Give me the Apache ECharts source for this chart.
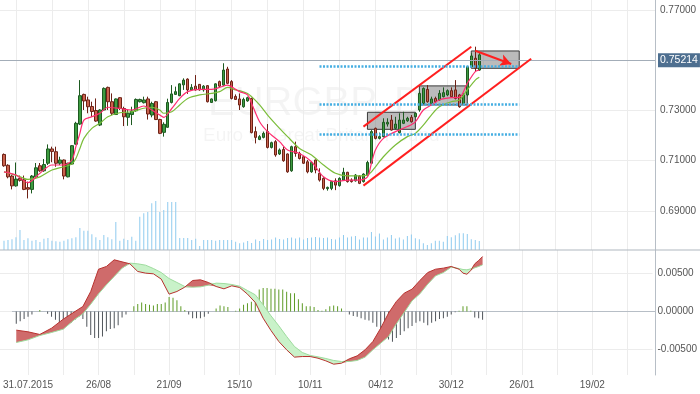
<!DOCTYPE html>
<html><head><meta charset="utf-8">
<script src="https://cdn.jsdelivr.net/npm/echarts@6/dist/echarts.min.js"></script>
<style>html,body{margin:0;padding:0;background:#fff}#c{width:700px;height:394px}</style>
</head><body><div id="c"></div>
<script>
// ---- trading-day categories (weekdays, 1 Jan 2016 closed) ----
const firstDay = '2015-07-27';
const closedDays = ['2016-01-01'];
const categoryCount = 165;
const tickDates  = ['2015-07-31','2015-08-26','2015-09-21','2015-10-15','2015-11-10','2015-12-04','2015-12-30','2016-01-26','2016-02-19'];
const tickLabels = ['31.07.2015','26/08','21/09','15/10','10/11','04/12','30/12','26/01','19/02'];
const categories = [];
(function(){
  let d = new Date(firstDay + 'T00:00:00Z');
  while (categories.length < categoryCount) {
    const wd = d.getUTCDay(), iso = d.toISOString().slice(0,10);
    if (wd !== 0 && wd !== 6 && closedDays.indexOf(iso) < 0) categories.push(iso);
    d = new Date(d.getTime() + 86400000);
  }
})();
const firstCandleIdx = 1;

// ---- EURGBP daily candles [open, close, low, high] ----
const candles = [
[.7125,.7080,.7076,.7129],[.7082,.7036,.7030,.7086],[.7039,.7000,.6986,.7043],[.7000,.7027,.6997,.7093],[.7030,.7022,.7017,.7041],
[.7024,.6986,.6983,.7041],[.6993,.6987,.6950,.7017],[.6986,.7039,.6970,.7043],[.7036,.7072,.7034,.7091],[.7080,.7060,.7056,.7091],
[.7060,.7085,.7056,.7107],[.7090,.7147,.7083,.7165],[.7147,.7137,.7094,.7156],[.7136,.7090,.7076,.7156],[.7090,.7103,.7083,.7116],
[.7103,.7039,.7026,.7105],[.7036,.7090,.7034,.7092],[.7087,.7160,.7084,.7162],[.7166,.7249,.7164,.7255],[.7246,.7359,.7242,.7421],
[.7364,.7338,.7302,.7367],[.7342,.7315,.7289,.7355],[.7316,.7296,.7275,.7335],[.7300,.7258,.7255,.7348],[.7242,.7302,.7238,.7305],
[.7302,.7388,.7299,.7392],[.7392,.7335,.7302,.7395],[.7335,.7289,.7282,.7368],[.7284,.7346,.7282,.7348],[.7351,.7308,.7302,.7353],
[.7308,.7275,.7238,.7315],[.7273,.7289,.7239,.7302],[.7284,.7298,.7242,.7315],[.7299,.7344,.7295,.7348],[.7335,.7344,.7332,.7347],
[.7331,.7342,.7328,.7355],[.7346,.7286,.7264,.7355],[.7282,.7328,.7273,.7335],[.7335,.7264,.7262,.7338],[.7264,.7209,.7206,.7267],
[.7213,.7245,.7196,.7253],[.7233,.7332,.7232,.7347],[.7332,.7366,.7328,.7401],[.7364,.7375,.7362,.7395],[.7359,.7406,.7357,.7408],
[.7402,.7421,.7382,.7428],[.7425,.7382,.7366,.7428],[.7382,.7392,.7379,.7405],[.7397,.7382,.7379,.7441],[.7404,.7382,.7379,.7405],
[.7382,.7397,.7375,.7401],[.7399,.7335,.7332,.7401],[.7332,.7346,.7330,.7348],[.7339,.7406,.7336,.7408],[.7415,.7397,.7392,.7419],
[.7401,.7461,.7397,.7488],[.7465,.7408,.7405,.7474],[.7415,.7348,.7344,.7421],[.7356,.7344,.7342,.7364],[.7346,.7322,.7302,.7368],
[.7315,.7344,.7311,.7351],[.7338,.7351,.7335,.7355],[.7348,.7212,.7209,.7351],[.7216,.7193,.7169,.7236],[.7185,.7196,.7182,.7202],
[.7193,.7209,.7189,.7216],[.7216,.7153,.7149,.7246],[.7153,.7172,.7149,.7176],[.7176,.7123,.7116,.7182],[.7127,.7143,.7123,.7149],
[.7145,.7100,.7096,.7156],[.7127,.7056,.7052,.7129],[.7060,.7156,.7056,.7160],[.7156,.7129,.7116,.7176],[.7129,.7109,.7105,.7136],
[.7116,.7090,.7087,.7119],[.7096,.7056,.7050,.7103],[.7056,.7093,.7052,.7096],[.7103,.7063,.7050,.7105],[.7050,.7023,.7017,.7070],
[.7030,.6990,.6983,.7034],[.6989,.6994,.6981,.6997],[.6990,.7017,.6983,.7019],[.7020,.7003,.6983,.7030],[.7001,.7030,.6997,.7034],
[.7023,.7054,.7020,.7072],[.7054,.7017,.7013,.7056],[.7023,.7017,.7013,.7030],[.7020,.7043,.7017,.7047],[.7039,.7010,.7007,.7043],
[.7017,.7047,.7013,.7050],[.7043,.7093,.7039,.7100],[.7090,.7216,.7087,.7222],[.7229,.7189,.7185,.7232],[.7189,.7196,.7185,.7212],
[.7196,.7253,.7193,.7269],[.7246,.7253,.7236,.7269],[.7262,.7222,.7220,.7282],[.7229,.7246,.7225,.7275],[.7212,.7262,.7209,.7289],
[.7249,.7262,.7246,.7295],[.7259,.7269,.7255,.7275],[.7273,.7255,.7252,.7282],[.7275,.7289,.7273,.7291],[.7302,.7368,.7295,.7375],
[.7328,.7388,.7326,.7392],[.7384,.7335,.7331,.7401],[.7328,.7346,.7326,.7355],[.7348,.7335,.7331,.7355],[.7342,.7368,.7339,.7381],
[.7355,.7371,.7352,.7392],[.7362,.7379,.7357,.7384],[.7379,.7355,.7352,.7392],[.7382,.7348,.7344,.7421],[.7362,.7315,.7311,.7366],
[.7328,.7362,.7326,.7368],[.7362,.7474,.7357,.7477],[.7474,.7517,.7472,.7528],[.7508,.7468,.7455,.7554],[.7461,.75214,.7458,.7528]
];
const lastPrice = 0.75214;

// ---- moving averages, read at sampled candles (candle number, value) ----
const maIdx  = [1,4,7,10,13,16,18,19,20,21,23,25,27,30,33,36,38,40,41,43,45,47,50,53,55,57,59,60,62,63,65,67,70,72,75,78,81,84,87,90,92,93,94,96,99,102,104,106,108,110,113,115,117,119,120];
const maFast = [.7056,.7043,.7013,.7050,.7083,.7083,.7103,.7156,.7209,.7262,.7275,.7289,.7313,.7308,.7302,.7318,.7302,.7282,.7273,.7308,.7348,.7375,.7384,.7384,.7392,.7401,.7384,.7375,.7362,.7328,.7255,.7216,.7176,.7143,.7129,.7096,.7036,.7017,.7023,.7023,.7036,.7090,.7143,.7189,.7216,.7236,.7255,.7302,.7322,.7342,.7351,.7352,.7408,.7455,.7461];
const maSlow = [.7056,.7043,.7026,.7036,.7063,.7076,.7087,.7109,.7149,.7189,.7229,.7249,.7275,.7291,.7295,.7309,.7313,.7302,.7289,.7295,.7322,.7348,.7362,.7368,.7375,.7392,.7382,.7379,.7368,.7355,.7322,.7282,.7229,.7196,.7149,.7123,.7083,.7050,.7040,.7040,.7043,.7056,.7076,.7116,.7163,.7196,.7209,.7242,.7282,.7315,.7335,.7342,.7382,.7421,.7432];

// ---- volume per candle ----
const volume = [9300,10000,10700,12700,20000,10000,11700,9300,10000,8000,11300,12000,9300,8700,8300,9300,10700,11700,12700,22000,
19300,19300,15700,12700,10000,15000,12700,10700,28000,9300,11300,10000,13300,9300,33300,36700,38000,46700,49000,38000,
40000,48000,48000,48000,12000,12000,12000,10000,11300,4000,10000,10000,10000,9300,10000,10000,10000,10000,8300,6700,
7500,9000,7000,10500,9000,11000,10000,10500,12500,11000,10500,12000,12500,11500,12500,10500,12000,12500,13000,12500,
12000,12500,11000,10500,12500,15000,12500,13500,14000,10500,12500,12500,18000,13500,16500,10500,12500,15000,11500,12500,
10500,14000,15500,11700,10700,6700,5000,6700,9300,9300,8300,14000,12700,14700,16700,16700,16000,10700,10000,9000];

// ---- MACD panel ----
const histogram = [-0.0016,-0.0013,-0.0010,-0.0007,-0.0004,0.0000,0.0002,0.0000,-0.0003,-0.0007,
-0.0011,-0.0018,-0.0018,-0.0018,-0.0015,-0.0011,-0.0007,-0.0010,-0.0020,-0.0031,
-0.0035,-0.0035,-0.0033,-0.0026,-0.0023,-0.0022,-0.0018,-0.0008,-0.0004,0.0000,
0.0007,0.0010,0.0012,0.0010,0.0009,0.0008,0.0010,0.0010,0.0012,0.0019,
0.0018,0.0015,0.0007,0.0002,-0.0004,-0.0009,-0.0009,-0.0009,-0.0007,-0.0003,
0.0000,0.0004,0.0008,0.0007,0.0006,0.0000,0.0001,0.0004,0.0009,0.0011,
0.0013,0.0015,0.0029,0.0031,0.0031,0.0030,0.0030,0.0029,0.0029,0.0026,
0.0024,0.0024,0.0016,0.0011,0.0007,0.0007,0.0006,0.0002,0.0001,0.0003,
0.0007,0.0008,0.0007,0.0004,0.0000,-0.0004,-0.0006,-0.0007,-0.0009,-0.0011,
-0.0012,-0.0015,-0.0020,-0.0031,-0.0037,-0.0037,-0.0040,-0.0035,-0.0031,-0.0026,
-0.0022,-0.0019,-0.0015,-0.0013,-0.0015,-0.0018,-0.0015,-0.0013,-0.0010,-0.0009,
-0.0007,-0.0004,-0.0001,0.0001,0.0007,0.0007,0.0001,-0.0008,-0.0009,-0.0011];
const macdIdx = [1,4,7,10,13,16,18,20,22,24,26,28,30,32,34,36,38,40,42,44,46,48,50,52,54,56,58,60,62,64,66,68,70,72,74,76,78,80,82,84,86,88,90,92,94,96,98,100,102,104,106,108,110,112,114,115,116,117,118,119,120];
const macdLine = [-0.00246,-0.00268,-0.00303,-0.00220,-0.00101,0.00000,0.00066,0.00264,0.00558,0.00594,0.00682,0.00655,0.00629,0.00528,0.00506,0.00497,0.00427,0.00229,0.00264,0.00321,0.00409,0.00418,0.00383,0.00330,0.00299,0.00339,0.00317,0.00229,0.00119,-0.00088,-0.00251,-0.00396,-0.00506,-0.00602,-0.00594,-0.00594,-0.00616,-0.00651,-0.00695,-0.00682,-0.00624,-0.00585,-0.00506,-0.00396,-0.00220,-0.00022,0.00132,0.00242,0.00295,0.00409,0.00514,0.00558,0.00572,0.00594,0.00558,0.00506,0.00492,0.00541,0.00629,0.00673,0.00725];
const signalLine = [-0.00409,-0.00374,-0.00317,-0.00277,-0.00233,-0.00101,-0.00031,0.00097,0.00233,0.00352,0.00462,0.00572,0.00638,0.00629,0.00611,0.00567,0.00514,0.00435,0.00383,0.00330,0.00321,0.00325,0.00347,0.00374,0.00369,0.00356,0.00334,0.00277,0.00220,0.00088,-0.00057,-0.00189,-0.00330,-0.00462,-0.00541,-0.00580,-0.00598,-0.00620,-0.00646,-0.00660,-0.00660,-0.00646,-0.00602,-0.00506,-0.00418,-0.00330,-0.00163,-0.00013,0.00141,0.00233,0.00361,0.00470,0.00514,0.00585,0.00567,0.00554,0.00550,0.00563,0.00576,0.00594,0.00616];

// ---- drawn annotations (category index, price) ----
const channelLines = [ [[91,0.7236],[118,0.7554]], [[91,0.7001],[133,0.7506]] ];
const arrowLine = [[119,0.7538],[128,0.7485]];
const levelLines = [0.7477, 0.7323, 0.7204];
const levelFrom = 80, levelTo = 130;
const boxes = [ [[92,0.7293],[104,0.7225]], [[105,0.7398],[117,0.7322]], [[118,0.7537],[130,0.7468]] ];

// ---------------- chart ----------------
const gridLineColor = '#ececec';
const axisColor = '#b7bec6';
const labelFont = { color: '#555', fontSize: 10, fontFamily: 'Liberation Sans, Arial, sans-serif' };
const splitInterval = (i) => i >= 4 && (i - 4) % 9 === 0;

const candleData = candles.map((c, i) => [i + firstCandleIdx, c[0], c[1], c[2], c[3]]);
const pairs = (idx, vals) => idx.map((n, i) => [n - 1 + firstCandleIdx, vals[i]]);
const volData = volume.map((v, i) => [i + firstCandleIdx, v]);
const histData = histogram.map((v, i) => ({ value: [i + firstCandleIdx, v], itemStyle: { color: v >= 0 ? '#5e9b26' : '#50555b' } }));
const baseBand = macdIdx.map((n, i) => [n - 1 + firstCandleIdx, Math.min(macdLine[i], signalLine[i])]);
const redBand = macdIdx.map((n, i) => [n - 1 + firstCandleIdx, Math.max(macdLine[i] - signalLine[i], 0)]);
const greenBand = macdIdx.map((n, i) => [n - 1 + firstCandleIdx, Math.max(signalLine[i] - macdLine[i], 0)]);

const markLines = [
  { yAxis: lastPrice, symbol: 'none', lineStyle: { color: '#a3adb8', width: 1, type: 'solid' },
    label: { show: true, position: 'end', distance: 3, formatter: lastPrice.toFixed(5), color: '#fff',
             backgroundColor: '#4e6f90', padding: [2, 2, 1, 2], lineHeight: 11, fontSize: 10.5, fontFamily: 'Liberation Sans, Arial, sans-serif' } }
];
channelLines.forEach(l => markLines.push([
  { coord: l[0], symbol: 'none', lineStyle: { color: '#ff1f1f', width: 2, type: 'solid' }, label: { show: false } },
  { coord: l[1], symbol: 'none' }]));
markLines.push([
  { coord: arrowLine[0], symbol: 'none', lineStyle: { color: '#ff1f1f', width: 2, type: 'solid' }, label: { show: false } },
  { coord: arrowLine[1], symbol: 'arrow', symbolSize: [9, 11] }]);
levelLines.forEach(p => markLines.push([
  { coord: [levelFrom, p], symbol: 'none', lineStyle: { color: '#45aee2', width: 2.5, type: [2, 1.5] }, label: { show: false } },
  { coord: [levelTo, p], symbol: 'none' }]));

const xBase = { type: 'category', data: categories, boundaryGap: false };
const chart = echarts.init(document.getElementById('c'));
chart.setOption({
  animation: false,
  backgroundColor: '#fff',
  graphic: [
    { type: 'text', left: 208, top: 84, z: 0, silent: true,
      style: { text: 'EURGBP, D', fill: 'rgba(0,0,0,0.045)', font: '40px Liberation Sans, Arial, sans-serif' } },
    { type: 'text', left: 203, top: 126, z: 0, silent: true,
      style: { text: 'Euro vs Great Britain Pound', fill: 'rgba(0,0,0,0.045)', font: '19px Liberation Sans, Arial, sans-serif' } },
    { type: 'rect', left: 0, top: 249.5, z: 5, silent: true, shape: { width: 700, height: 1 }, style: { fill: '#b0b7bf' } }
  ],
  grid: [
    { left: 0, right: 45, top: 0, height: 261.25 },
    { left: 0, right: 45, top: 0, height: 250 },
    { left: 0, right: 45, top: 250, height: 125 },
    { left: 0, right: 45, top: 235.7, height: 151.6 }
  ],
  xAxis: [
    Object.assign({ gridIndex: 0, show: false }, xBase),
    Object.assign({ gridIndex: 1, axisLine: { show: false }, axisTick: { show: false }, axisLabel: { show: false },
      splitLine: { show: true, interval: splitInterval, lineStyle: { color: gridLineColor } } }, xBase),
    Object.assign({ gridIndex: 2, axisLine: { show: true, lineStyle: { color: axisColor } }, axisTick: { show: false },
      axisLabel: Object.assign({ interval: (i, v) => tickDates.indexOf(v) >= 0, formatter: v => { const k = tickDates.indexOf(v); return k >= 0 ? tickLabels[k] : ''; }, margin: 5 }, labelFont),
      splitLine: { show: true, interval: splitInterval, lineStyle: { color: gridLineColor } } }, xBase),
    Object.assign({ gridIndex: 3, show: false }, xBase)
  ],
  yAxis: [
    { gridIndex: 0, position: 'right', min: 0.67, max: 0.77398, interval: 0.02, axisLine: { show: false }, axisTick: { show: false },
      axisLabel: Object.assign({ formatter: v => v.toFixed(5), showMinLabel: false, showMaxLabel: false, margin: 5, hideOverlap: false }, labelFont),
      splitLine: { show: true, showMinLine: false, showMaxLine: false, lineStyle: { color: gridLineColor } } },
    { gridIndex: 1, position: 'right', min: 0, max: 250000, axisLine: { show: true, lineStyle: { color: axisColor } },
      axisTick: { show: false }, axisLabel: { show: false }, splitLine: { show: false } },
    { gridIndex: 2, position: 'right', min: -0.008377, max: 0.008113, axisLine: { show: true, lineStyle: { color: axisColor } },
      axisTick: { show: false }, axisLabel: { show: false }, splitLine: { show: false } },
    { gridIndex: 3, position: 'right', min: -0.01, max: 0.01, interval: 0.005, axisLine: { show: false }, axisTick: { show: false },
      axisLabel: Object.assign({ formatter: v => v.toFixed(5), showMinLabel: false, showMaxLabel: false, margin: 5 }, labelFont),
      splitLine: { show: true, showMinLine: false, showMaxLine: false, lineStyle: { color: gridLineColor } } }
  ],
  series: [
    { type: 'bar', xAxisIndex: 1, yAxisIndex: 1, data: volData, barWidth: 1, itemStyle: { color: '#8fcbef' }, silent: true },
    { type: 'candlestick', xAxisIndex: 0, yAxisIndex: 0, data: candleData, encode: { x: 0, y: [1, 2, 3, 4] }, barWidth: 3,
      itemStyle: { color: '#3d9b40', color0: '#c9624e', borderColor: '#1d5a20', borderColor0: '#6e2216', borderWidth: 1 },
      markArea: { silent: true, itemStyle: { color: 'rgba(120,120,120,0.5)', borderColor: '#3a3a3a', borderWidth: 1 },
        data: boxes.map(b => [{ coord: b[0] }, { coord: b[1] }]) },
      markLine: { silent: true, animation: false, symbol: 'none', data: markLines } },
    { type: 'line', xAxisIndex: 0, yAxisIndex: 0, data: pairs(maIdx, maSlow), symbol: 'none', smooth: 0.3,
      lineStyle: { color: '#7bbd3a', width: 1.2 } },
    { type: 'line', xAxisIndex: 0, yAxisIndex: 0, data: pairs(maIdx, maFast), symbol: 'none', smooth: 0.3,
      lineStyle: { color: '#ff2d70', width: 1.2 } },
    { type: 'line', xAxisIndex: 2, yAxisIndex: 2, data: baseBand, stack: 'cloud', stackStrategy: 'all', symbol: 'none',
      lineStyle: { opacity: 0 } },
    { type: 'line', xAxisIndex: 2, yAxisIndex: 2, data: redBand, stack: 'cloud', stackStrategy: 'all', symbol: 'none',
      lineStyle: { opacity: 0 }, areaStyle: { color: '#cf6b6b', opacity: 1 } },
    { type: 'line', xAxisIndex: 2, yAxisIndex: 2, data: greenBand, stack: 'cloud', stackStrategy: 'all', symbol: 'none',
      lineStyle: { opacity: 0 }, areaStyle: { color: '#c9f2c9', opacity: 1 } },
    { type: 'bar', xAxisIndex: 2, yAxisIndex: 2, data: histData, barWidth: 1 },
    { type: 'line', xAxisIndex: 2, yAxisIndex: 2, data: pairs(macdIdx, signalLine), symbol: 'none',
      lineStyle: { color: '#9edc9e', width: 1 } },
    { type: 'line', xAxisIndex: 2, yAxisIndex: 2, data: pairs(macdIdx, macdLine), symbol: 'none',
      lineStyle: { color: '#b8322f', width: 1 } }
  ]
});
</script></body></html>
